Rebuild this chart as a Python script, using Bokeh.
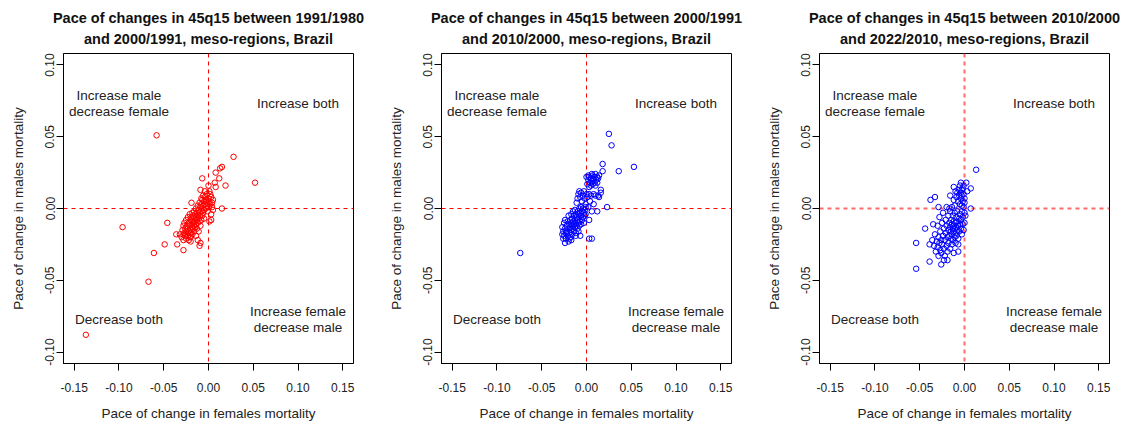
from bokeh.plotting import figure
from bokeh.layouts import row
from bokeh.models import Range1d, FixedTicker, NumeralTickFormatter, ColumnDataSource, Title
from bokeh.core.properties import value
from bokeh.embed import file_html
from bokeh.resources import INLINE

# ---------------- data ----------------
title_line1 = [
    "Pace of changes in 45q15 between 1991/1980",
    "Pace of changes in 45q15 between 2000/1991",
    "Pace of changes in 45q15 between 2010/2000",
]
title_line2 = [
    "and 2000/1991, meso-regions, Brazil",
    "and 2010/2000, meso-regions, Brazil",
    "and 2022/2010, meso-regions, Brazil",
]
x_label = "Pace of change in females mortality"
y_label = "Pace of change in males mortality"
x_ticks = [-0.15, -0.10, -0.05, 0.0, 0.05, 0.10, 0.15]
y_ticks = [-0.10, -0.05, 0.0, 0.05, 0.10]
ref_zero = [0.0]
quad_text = ["Increase male\ndecrease female", "Increase both", "Decrease both", "Increase female\ndecrease male"]
quad_x = [-0.1, 0.1, -0.1, 0.1]
quad_y = [0.075, 0.075, -0.075, -0.075]

# panel 1 (1991/1980 vs 2000/1991)
p1_female = [
    -0.058, 0.028, 0.052, -0.096, -0.137, -0.067, -0.061, -0.049, -0.046, -0.035, -0.028,
    0.015, 0.019, 0.015, 0.013, 0.008, 0.012, 0.007, 0.008, -0.007, 0.000, -0.009, 0.003,
    0.003, 0.001, -0.009, -0.012, -0.036, -0.032, -0.028, -0.022, -0.019, -0.008, -0.004,
    0.005, 0.002, -0.003, 0.004, -0.020, -0.020, -0.010,
    -0.030, -0.029, -0.028, -0.028, -0.027, -0.027, -0.026, -0.026, -0.025, -0.025, -0.025,
    -0.024, -0.024, -0.023, -0.023, -0.023, -0.022, -0.022, -0.021, -0.021, -0.021, -0.020,
    -0.020, -0.020, -0.019, -0.019, -0.019, -0.018, -0.018, -0.018, -0.018, -0.017, -0.017,
    -0.017, -0.016, -0.016, -0.016, -0.016, -0.015, -0.015, -0.015, -0.014, -0.014, -0.014,
    -0.014, -0.013, -0.013, -0.013, -0.012, -0.012, -0.012, -0.011, -0.011, -0.011, -0.010,
    -0.010, -0.010, -0.009, -0.009, -0.009, -0.008, -0.008, -0.008, -0.007, -0.007, -0.007,
    -0.006, -0.006, -0.006, -0.005, -0.005, -0.005, -0.004, -0.004, -0.003, -0.003, -0.002,
    -0.002, -0.001, -0.001, 0.000, 0.000, 0.001, 0.001, 0.002, 0.003, 0.004, 0.005,
]
p1_male = [
    0.051, 0.036, 0.018, -0.013, -0.088, -0.051, -0.031, -0.025, -0.010, -0.025, -0.029,
    0.000, 0.016, 0.029, 0.028, 0.025, 0.021, 0.018, 0.015, 0.021, 0.016, 0.013, -0.004,
    -0.008, -0.009, -0.024, -0.022, -0.018, -0.018, -0.018, -0.022, 0.004, 0.007, 0.012,
    0.006, 0.010, 0.005, 0.001, -0.023, -0.020, -0.026,
    -0.020, -0.015, -0.012, -0.022, -0.017, -0.010, -0.019, -0.014, -0.008, -0.016, -0.021,
    -0.012, -0.018, -0.006, -0.014, -0.019, -0.010, -0.016, -0.004, -0.012, -0.020, -0.008,
    -0.014, -0.017, -0.006, -0.011, -0.015, -0.003, -0.009, -0.013, -0.018, -0.005, -0.010,
    -0.014, -0.002, -0.007, -0.012, -0.016, -0.004, -0.009, -0.013, 0.000, -0.006, -0.011,
    -0.019, -0.003, -0.008, -0.014, 0.002, -0.005, -0.010, -0.001, -0.007, -0.016, 0.004,
    -0.003, -0.009, 0.001, -0.005, -0.012, 0.003, -0.002, -0.008, 0.006, 0.000, -0.005,
    0.002, -0.003, 0.009, 0.005, -0.001, -0.007, 0.003, 0.008, 0.000, 0.006, 0.002,
    0.010, 0.004, -0.002, 0.007, 0.001, 0.005, 0.012, 0.003, 0.008, 0.004, -0.001,
]

# panel 2 (2000/1991 vs 2010/2000)
p2_female = [
    0.025, 0.028, 0.018, 0.018, 0.036, 0.053, -0.074, 0.023, 0.012, 0.006, 0.003, 0.003,
    0.006, -0.007, -0.024, -0.017, 0.016, 0.016, 0.008, 0.002,
    0.001, 0.002, 0.003, 0.004, 0.005, 0.005, 0.006, 0.007, 0.007, 0.008, 0.009, 0.009,
    0.010, 0.010, 0.011, 0.012, 0.012, 0.013, 0.014, 0.003, 0.000, 0.006,
    -0.011, -0.010, -0.009, -0.008, -0.007, -0.006, -0.005, -0.004, -0.003, -0.002, 0.000,
    0.001, 0.003, 0.005, 0.008, 0.010, 0.013, 0.014, 0.004, -0.001, 0.002,
    -0.027, -0.027, -0.026, -0.026, -0.025, -0.025, -0.024, -0.024, -0.023, -0.023, -0.022,
    -0.022, -0.021, -0.021, -0.020, -0.020, -0.019, -0.019, -0.018, -0.018, -0.018, -0.017,
    -0.017, -0.017, -0.016, -0.016, -0.016, -0.015, -0.015, -0.015, -0.014, -0.014, -0.014,
    -0.013, -0.013, -0.013, -0.012, -0.012, -0.012, -0.011, -0.011, -0.010, -0.010, -0.010,
    -0.009, -0.009, -0.008, -0.008, -0.008, -0.007, -0.007, -0.006, -0.006, -0.006, -0.005,
    -0.005, -0.004, -0.004, -0.003, -0.003, -0.002, -0.002, -0.001, -0.001, -0.020, -0.019,
    -0.012, -0.009,
]
p2_male = [
    0.052, 0.044, 0.031, 0.026, 0.026, 0.029, -0.031, 0.001, -0.002, -0.002, -0.008, -0.021,
    -0.021, -0.019, -0.024, -0.022, 0.011, 0.013, 0.003, 0.023,
    0.017, 0.020, 0.022, 0.018, 0.016, 0.021, 0.019, 0.023, 0.017, 0.020, 0.022, 0.018,
    0.016, 0.024, 0.020, 0.022, 0.018, 0.021, 0.023, 0.015, 0.022, 0.024,
    0.004, 0.007, 0.010, 0.012, 0.008, 0.011, 0.005, 0.009, 0.012, 0.007, 0.010,
    0.008, 0.010, 0.009, 0.010, 0.009, 0.009, 0.008, 0.005, 0.003, 0.001,
    -0.018, -0.013, -0.021, -0.016, -0.010, -0.019, -0.014, -0.008, -0.017, -0.021, -0.012,
    -0.016, -0.009, -0.019, -0.014, -0.005, -0.011, -0.017, -0.008, -0.013, -0.020, -0.004,
    -0.010, -0.015, -0.007, -0.012, -0.018, -0.002, -0.009, -0.014, -0.005, -0.011, -0.016,
    -0.001, -0.008, -0.013, -0.004, -0.010, -0.017, -0.006, -0.012, -0.002, -0.008, -0.014,
    -0.004, -0.010, 0.000, -0.006, -0.012, -0.003, -0.009, 0.001, -0.005, -0.011, -0.002,
    -0.008, 0.000, -0.006, -0.003, -0.010, -0.001, -0.005, 0.001, -0.004, -0.023, -0.021,
    -0.019, -0.016,
]

# panel 3 (2010/2000 vs 2022/2010)
p3_female = [
    0.013, -0.054, -0.054, -0.039, -0.026, -0.044, -0.038, -0.033, -0.035, 0.007, 0.007,
    0.002, -0.004, -0.007, -0.007, -0.039, -0.029, -0.012, -0.016, 0.000, 0.001, -0.001,
    -0.003, 0.003,
    -0.010, -0.009, -0.008, -0.007, -0.006, -0.006, -0.005, -0.005, -0.004, -0.004, -0.003,
    -0.003, -0.002, -0.002, -0.001, -0.001, 0.000, 0.000, -0.012, -0.011, -0.014, -0.017,
    -0.020,
    -0.036, -0.034, -0.033, -0.032, -0.031, -0.030, -0.030, -0.029, -0.029, -0.028, -0.028,
    -0.027, -0.027, -0.026, -0.026, -0.025, -0.025, -0.024, -0.024, -0.023, -0.023, -0.022,
    -0.022, -0.021, -0.021, -0.020, -0.020, -0.019, -0.019, -0.018, -0.018, -0.018, -0.017,
    -0.017, -0.016, -0.016, -0.016, -0.015, -0.015, -0.015, -0.014, -0.014, -0.014, -0.013,
    -0.013, -0.013, -0.012, -0.012, -0.012, -0.011, -0.011, -0.011, -0.010, -0.010, -0.010,
    -0.009, -0.009, -0.009, -0.008, -0.008, -0.008, -0.007, -0.007, -0.006, -0.006, -0.005,
    -0.005, -0.004, -0.004, -0.003, -0.003, -0.002, -0.002, -0.001, 0.000, -0.019, -0.012,
    -0.023,
]
p3_male = [
    0.027, -0.042, -0.024, -0.037, -0.039, -0.014, 0.006, 0.008, -0.011, 0.000, 0.014,
    0.018, 0.018, -0.025, -0.030, -0.025, 0.001, 0.015, 0.009, -0.010, -0.005, 0.016,
    0.013, 0.012,
    0.012, 0.008, 0.011, 0.005, 0.013, 0.009, 0.003, 0.016, 0.007, 0.011, 0.002,
    0.009, 0.014, 0.005, 0.010, 0.001, 0.007, 0.004, 0.006, 0.002, 0.001, 0.000,
    0.001,
    -0.022, -0.026, -0.018, -0.030, -0.023, -0.027, -0.012, -0.033, -0.020, -0.024, -0.006,
    -0.029, -0.016, -0.022, -0.031, -0.010, -0.025, -0.019, -0.003, -0.028, -0.014, -0.022,
    -0.033, -0.008, -0.017, -0.026, -0.012, -0.020, -0.030, -0.005, -0.015, -0.024, -0.010,
    -0.019, -0.028, -0.013, -0.002, -0.021, -0.008, -0.016, -0.025, -0.011, -0.018, -0.005,
    -0.014, -0.022, -0.009, -0.016, -0.012, -0.020, -0.003, -0.014, -0.010, -0.017, -0.024,
    -0.006, -0.013, -0.019, -0.009, -0.015, -0.002, -0.012, -0.021, -0.007, -0.016, -0.011,
    -0.004, -0.014, -0.008, -0.018, -0.002, -0.011, -0.006, -0.015, -0.003, -0.036, -0.031,
    -0.036,
]

panels = [
    (p1_female, p1_male, "#FF0000", "#FF0000", 1.0),
    (p2_female, p2_male, "#0000FF", "#FF0000", 1.0),
    (p3_female, p3_male, "#0000FF", "#FF6A6A", 2.0),
]

FONT = "Liberation Sans"
widths = [378, 378, 370]
right_borders = [25, 25, 17]

figs = []
for i, (xf, ym, pcol, lcol, lw) in enumerate(panels):
    p = figure(width=widths[i], height=423, output_backend="svg", toolbar_location=None,
               x_range=Range1d(-0.162, 0.162), y_range=Range1d(-0.108, 0.108),
               min_border_left=63, min_border_right=right_borders[i],
               min_border_top=53, min_border_bottom=58,
               title=title_line1[i])
    p.title.text_font = FONT
    p.title.text_font_size = "14.5px"
    p.title.text_font_style = "bold"
    p.title.text_color = "#111111"
    p.title.align = "center"
    try:
        p.title.standoff = -8
    except Exception:
        p.title.standoff = 0
    t2 = Title(text=title_line2[i], text_font=FONT, text_font_size="14.5px",
               text_font_style="bold", text_color="#111111", align="center", standoff=14)
    p.add_layout(t2, "above")

    p.grid.visible = False
    p.outline_line_color = "black"
    p.outline_line_width = 1
    p.background_fill_color = "white"
    p.border_fill_color = "white"

    p.xaxis.ticker = FixedTicker(ticks=x_ticks)
    p.yaxis.ticker = FixedTicker(ticks=y_ticks)
    for ax in (p.xaxis[0], p.yaxis[0]):
        ax.formatter = NumeralTickFormatter(format="0.00")
        ax.major_tick_in = 0
        ax.major_tick_out = 7
        ax.minor_tick_line_color = None
        ax.axis_line_color = "black"
        ax.major_tick_line_color = "black"
        ax.major_label_text_font = FONT
        ax.major_label_text_font_size = "12px"
        ax.major_label_text_color = "#222222"
        ax.axis_label_text_font = FONT
        ax.axis_label_text_font_size = "13.5px"
        ax.axis_label_text_font_style = "normal"
        ax.axis_label_text_color = "#222222"
    p.xaxis.axis_label = x_label
    p.yaxis.axis_label = y_label
    p.xaxis.major_label_standoff = 12
    p.xaxis.axis_label_standoff = 11
    p.yaxis.major_label_standoff = 2
    p.yaxis.axis_label_standoff = 17
    p.yaxis.major_label_orientation = "vertical"

    p.vspan(x=ref_zero, line_color=lcol, line_dash="4 4", line_width=lw)
    p.hspan(y=ref_zero, line_color=lcol, line_dash="4 4", line_width=lw)

    src = ColumnDataSource(dict(x=xf, y=ym))
    p.scatter("x", "y", source=src, marker="circle", size=5.5, fill_color=None,
              line_color=pcol, line_width=1)

    tsrc = ColumnDataSource(dict(x=quad_x, y=quad_y, t=quad_text))
    p.text("x", "y", text="t", source=tsrc, text_font=value(FONT), text_font_size="13.5px",
           text_align="center", text_baseline="middle", text_color="#222222",
           text_line_height=1.05, y_offset=3)
    figs.append(p)

layout = row(*figs)
open("out.html", "w").write(file_html(layout, INLINE))
